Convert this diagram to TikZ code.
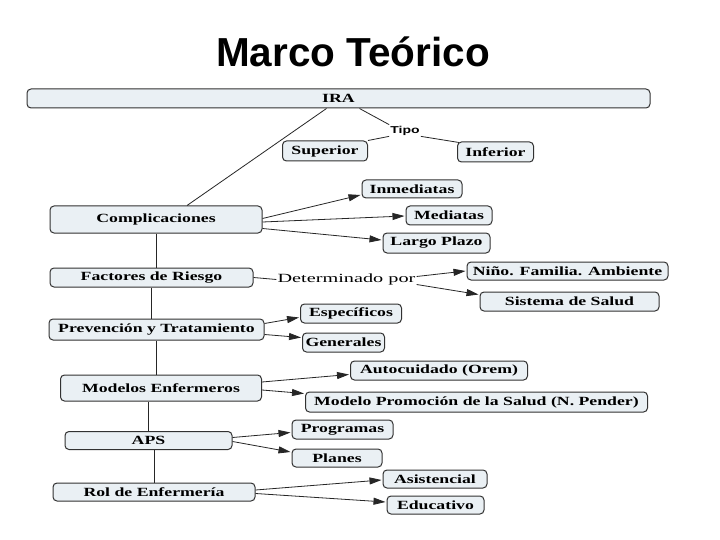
\documentclass[tikz,border=0pt]{standalone}
\usepackage{fontspec}
\setmainfont{Liberation Serif}
\newfontfamily\bxfont{Liberation Serif}[FakeStretch=1.42]
\newfontfamily\detfont{Liberation Serif}[FakeStretch=1.62]
\newfontfamily\tipofont{Liberation Sans Bold}[FakeStretch=1.4]
\newfontfamily\titlefont{Liberation Sans}
\usetikzlibrary{arrows.meta,calc}
\definecolor{boxfill}{RGB}{234,240,244}
\definecolor{boxline}{RGB}{50,50,50}
\tikzset{
  box/.style={draw=boxline, fill=boxfill, rounded corners=4pt, line width=1pt,
    inner sep=0pt, align=center, font=\bxfont\bfseries\fontsize{12.5}{13}\selectfont},
  conn/.style={draw=black!85, line width=0.8pt},
  arr/.style={conn, -{Triangle[length=12pt,width=7pt]}},
  lbl/.style={inner sep=1pt}
}
\begin{document}
\begin{tikzpicture}[x=1pt,y=-1pt]
\useasboundingbox[fill=white] (0,0) rectangle (720,540);
\node[lbl, font=\titlefont\bfseries\fontsize{40.5}{42}\selectfont] (title) at (353,52) {Marco Teórico};

\node[box, minimum width=623, minimum height=19] (ira) at (338.5,98.5) {IRA};
\node[box, minimum width=85, minimum height=20] (sup) at (325,151) {Superior};
\node[box, minimum width=76, minimum height=20] (inf) at (495.5,152) {Inferior};
\node[lbl, font=\tipofont\fontsize{10}{10}\selectfont] (tipo) at (405,130.5) {Tipo};

\node[box, minimum width=212, minimum height=27] (comp) at (156,219.5) {Complicaciones};
\node[box, minimum width=100, minimum height=18] (inmed) at (412,189) {Inmediatas};
\node[box, minimum width=86, minimum height=19] (med) at (449,215.5) {Mediatas};
\node[box, minimum width=107, minimum height=20] (largo) at (436.5,243) {Largo Plazo};

\node[box, minimum width=203, minimum height=19] (fact) at (151.5,277.5) {Factores de Riesgo};
\node[lbl, font=\detfont\fontsize{12.5}{13}\selectfont] (det) at (346.5,279.5) {Determinado por};
\node[box, minimum width=201, minimum height=18] (nino) at (567.5,271) {Niño. Familia. Ambiente};
\node[box, minimum width=179, minimum height=19] (sist) at (569.5,301.5) {Sistema de Salud};

\node[box, minimum width=215, minimum height=21] (prev) at (156.5,329.5) {Prevención y Tratamiento};
\node[box, minimum width=101, minimum height=19] (esp) at (351,313.5) {Específicos};
\node[box, minimum width=82, minimum height=19] (gen) at (343.5,342.5) {Generales};

\node[box, minimum width=201, minimum height=26] (mod) at (161,388) {Modelos Enfermeros};
\node[box, minimum width=177, minimum height=19] (auto) at (439,370.5) {Autocuidado (Orem)};
\node[box, minimum width=342, minimum height=20] (pend) at (476.5,402) {Modelo Promoción de la Salud (N. Pender)};

\node[box, minimum width=167, minimum height=18] (aps) at (148.5,440.5) {APS};
\node[box, minimum width=101, minimum height=19] (prog) at (342.5,429.5) {Programas};
\node[box, minimum width=90, minimum height=18] (plan) at (337,458) {Planes};

\node[box, minimum width=202, minimum height=18] (rol) at (154,492) {Rol de Enfermería};
\node[box, minimum width=104, minimum height=18] (asis) at (435,479) {Asistencial};
\node[box, minimum width=97, minimum height=18] (edu) at (435.5,505) {Educativo};

% IRA connections
\draw[conn] ($(ira.south)+(-12,0)$) -- ($(comp.north)+(31,0)$);
\draw[conn] ($(ira.south)+(21,0)$) -- (tipo.north west);
\draw[conn] (tipo.south west) -- (sup.north east);
\draw[conn] (tipo.south east) -- ($(inf.north west)+(2,1)$);

% vertical spine
\draw[conn] (comp.south) -- (comp.south |- fact.north);
\draw[conn] (fact.south) -- (fact.south |- prev.north);
\draw[conn] (prev.south) -- (prev.south |- mod.north);
\draw[conn] (aps.north) -- (aps.north |- mod.south);
\draw[conn] (rol.north) -- (rol.north |- aps.south);

% complicaciones
\draw[arr] ($(comp.east)+(0,-1)$) -- ($(inmed.west)+(-1,6)$);
\draw[arr] ($(comp.east)+(0,2.5)$) -- ($(med.west)+(-1,0.5)$);
\draw[arr] ($(comp.east)+(0,9)$) -- ($(largo.west)+(-1,-3)$);

% factores
\draw[conn] (fact.east) -- (det.west);
\draw[arr] ($(det.east)+(0,-3)$) -- ($(nino.west)+(-1,0)$);
\draw[arr] ($(det.east)+(0,5)$) -- ($(sist.north west)+(-1,3)$);

% prevencion
\draw[arr] ($(prev.east)+(0,-6)$) -- ($(esp.west)+(-1,4)$);
\draw[arr] ($(prev.east)+(0,5)$) -- ($(gen.west)+(-1,-5)$);

% modelos
\draw[arr] ($(mod.east)+(0,-6)$) -- ($(auto.west)+(-1,4)$);
\draw[arr] ($(mod.east)+(0,2)$) -- ($(pend.north west)+(-1,2)$);

% APS
\draw[arr] ($(aps.east)+(0,-3)$) -- ($(prog.west)+(-1,3)$);
\draw[arr] ($(aps.east)+(0,1)$) -- ($(plan.west)+(-1,-6)$);

% rol
\draw[arr] ($(rol.east)+(0,-2)$) -- ($(asis.west)+(-1,1)$);
\draw[arr] ($(rol.east)+(0,1.5)$) -- ($(edu.west)+(-1,-3)$);
\end{tikzpicture}
\end{document}
